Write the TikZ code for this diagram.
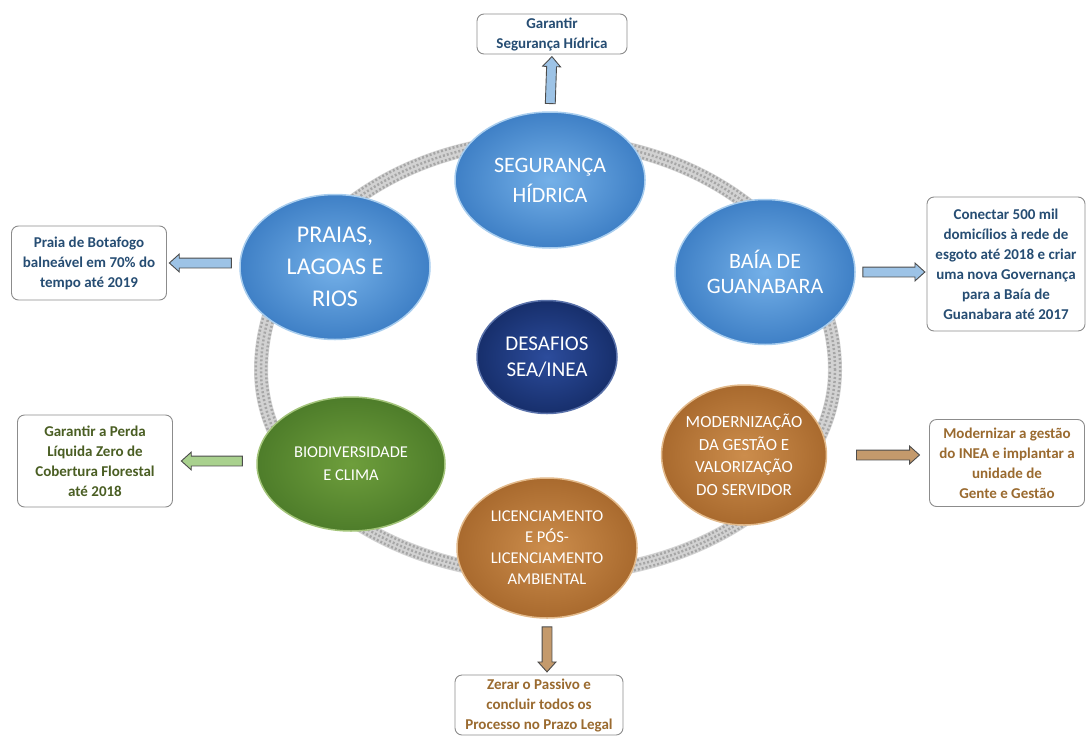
\documentclass[tikz,border=0pt]{standalone}
\usepackage{fontspec}
\setmainfont{Carlito}
\usetikzlibrary{shapes.geometric,shapes.arrows,calc}
\definecolor{blueIn}{HTML}{74B0E8}
\definecolor{blueOut}{HTML}{3F80C6}
\definecolor{blueRim}{HTML}{A8CDEE}
\definecolor{navyIn}{HTML}{2C4C9C}
\definecolor{navyOut}{HTML}{172F6C}
\definecolor{navyRim}{HTML}{5A72AA}
\definecolor{greenIn}{HTML}{6E9E3C}
\definecolor{greenOut}{HTML}{4E7D2A}
\definecolor{greenRim}{HTML}{A3C47A}
\definecolor{brownIn}{HTML}{CC8D4C}
\definecolor{brownOut}{HTML}{A96A2E}
\definecolor{brownRim}{HTML}{E2B98A}
\definecolor{boxBlue}{HTML}{264D73}
\definecolor{boxGreen}{HTML}{4A5E23}
\definecolor{boxBrown}{HTML}{9A6A2F}
\definecolor{arrBlue}{HTML}{9DC3E6}
\definecolor{arrGreen}{HTML}{A9D18E}
\definecolor{arrBrown}{HTML}{C49A6C}
\definecolor{ringA}{HTML}{D2D2D2}
\definecolor{ringB}{HTML}{A6A6A6}
\begin{document}
\begin{tikzpicture}[x=1pt,y=-1pt,
  ell/.style={ellipse, inner sep=0, align=center, text=white, draw=#1Rim, line width=1.5, inner color=#1In, outer color=#1Out},
  goal/.style={rectangle, rounded corners=7, draw=black!45, line width=0.9, fill=white, align=center, inner sep=2, font=\bfseries\fontsize{15}{20}\selectfont, text=#1},
  blk/.style={single arrow, draw=black!70, line width=0.9, fill=#1, inner sep=0, inner ysep=4.5, minimum width=17, single arrow head extend=4, single arrow tip angle=84, sloped, allow upside down},
  ringpath/.style={insert path={(835,370) arc[start angle=0, end angle=-180, x radius=287, y radius=230] arc[start angle=180, end angle=0, x radius=287, y radius=205] -- cycle}}
]
\useasboundingbox (0,0) rectangle (1086,736);
% ring
\draw[ringA, line width=14, ringpath];
\draw[ringB, line width=2.5, dash pattern=on 2 off 2, xshift=0, ringpath];
\begin{scope}[shift={(548,370)}, xscale=1.018, yscale=1.022, shift={(-548,-370)}]
\draw[ringB, line width=2.5, dash pattern=on 2 off 2, dash phase=2, ringpath];
\end{scope}
\begin{scope}[shift={(548,370)}, xscale=0.982, yscale=0.978, shift={(-548,-370)}]
\draw[ringB, line width=2.5, dash pattern=on 2 off 2, dash phase=2, ringpath];
\end{scope}
% challenge ellipses
\node[ell=blue, minimum width=190, minimum height=136, font=\fontsize{22}{30}\selectfont] (seg) at (550,180) {SEGURANÇA\\HÍDRICA};
\node[ell=blue, minimum width=190, minimum height=145, font=\fontsize{24}{32}\selectfont] (praias) at (335,267) {PRAIAS,\\LAGOAS E\\RIOS};
\node[ell=blue, minimum width=180, minimum height=145, font=\fontsize{22}{25}\selectfont] (baia) at (765,272) {BAÍA DE\\GUANABARA};
\node[ell=navy, minimum width=140, minimum height=113, font=\fontsize{21}{26}\selectfont] (des) at (547,357) {DESAFIOS\\SEA/INEA};
\node[ell=green, minimum width=188, minimum height=134, font=\fontsize{16.5}{23}\selectfont] (bio) at (351,464) {BIODIVERSIDADE\\E CLIMA};
\node[ell=brown, minimum width=162, minimum height=140, font=\fontsize{17}{22.5}\selectfont] (mod) at (744,455) {MODERNIZAÇÃO\\DA GESTÃO E\\VALORIZAÇÃO\\DO SERVIDOR};
\node[ell=brown, minimum width=180, minimum height=140, font=\fontsize{16.5}{21}\selectfont] (lic) at (547,548) {LICENCIAMENTO\\E PÓS-\\LICENCIAMENTO\\AMBIENTAL};
% goal boxes
\node[goal=boxBlue, minimum width=150, minimum height=40] (gseg) at (552,34) {Garantir\\Segurança Hídrica};
\node[goal=boxBlue, minimum width=155, minimum height=74] (gpra) at (89,263) {Praia de Botafogo\\balneável em 70\% do\\tempo até 2019};
\node[goal=boxBlue, minimum width=158, minimum height=134] (gbaia) at (1006,264) {Conectar 500 mil\\domicílios à rede de\\esgoto até 2018 e criar\\uma nova Governança\\para a Baía de\\Guanabara até 2017};
\node[goal=boxGreen, minimum width=155, minimum height=92] (gbio) at (95,461) {Garantir a Perda\\Líquida Zero de\\Cobertura Florestal\\até 2018};
\node[goal=boxBrown, minimum width=155, minimum height=87] (gmod) at (1007,463) {Modernizar a gestão\\do INEA e implantar a\\unidade de\\Gente e Gestão};
\node[goal=boxBrown, minimum width=168, minimum height=60] (glic) at (539,705) {Zerar o Passivo e\\concluir todos os\\Processo no Prazo Legal};
% block arrows
\path (seg.north) -- (gseg.south) node[blk=arrBlue, midway, minimum height=47] {};
\path (gpra.east -| praias.west) -- (gpra.east) node[blk=arrBlue, midway, minimum height=62] {};
\path (baia.east) -- (baia.east -| gbaia.west) node[blk=arrBlue, midway, minimum height=62] {};
\path (gbio.east -| bio.west) -- (gbio.east) node[blk=arrGreen, midway, minimum height=61] {};
\path (mod.east) -- (mod.east -| gmod.west) node[blk=arrBrown, pos=0.57, minimum height=63] {};
\path (lic.south) -- (lic.south |- glic.north) node[blk=arrBrown, midway, minimum height=45] {};
\end{tikzpicture}
\end{document}
